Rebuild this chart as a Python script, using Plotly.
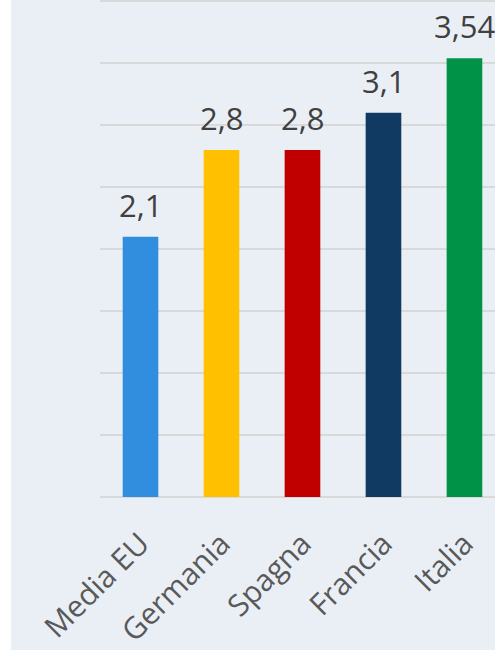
import plotly.graph_objects as go

# data
paesi = ['Media EU', 'Germania', 'Spagna', 'Francia', 'Italia']
valori = [2.1, 2.8, 2.8, 3.1, 3.54]
etichette = ['2,1', '2,8', '2,8', '3,1', '3,54']
colori = ['#318ede', '#ffc000', '#c00000', '#113a62', '#009246']

bg = '#eaeff6'

fig = go.Figure()
fig.add_trace(go.Bar(
    x=paesi, y=valori,
    marker_color=colori, marker_line_width=0,
    width=0.44,
    hoverinfo='skip',
))

# value labels above the bars
for p, v, t in zip(paesi, valori, etichette):
    fig.add_annotation(x=p, y=v, text=t, showarrow=False, yanchor='bottom', yshift=9,
                       font=dict(family='Open Sans', size=31, color='#404040'))

fig.update_layout(
    width=495, height=650,
    margin=dict(l=100, r=0, t=0, b=150),
    paper_bgcolor=bg, plot_bgcolor=bg,
    separators=',.',
    showlegend=False,
    font=dict(family='Open Sans'),
    # white strip on the left edge, as in the original image
    shapes=[dict(type='rect', xref='paper', yref='paper', x0=-0.26, x1=-0.2253,
                 y0=-0.4, y1=1.05, fillcolor='white', line_width=0, layer='below')],
)
fig.update_xaxes(
    range=[-0.5, 4.377], tickangle=-45,
    tickfont=dict(family='Open Sans', size=30, color='#595959'),
    ticks='outside', ticklen=16, tickcolor=bg, showline=False, showgrid=False,
)
fig.update_yaxes(
    range=[0, 4.01], dtick=0.5, showticklabels=False,
    gridcolor='#d9d9d9', gridwidth=2, zeroline=True, zerolinecolor='#d9d9d9', zerolinewidth=2,
)

fig.write_html('out.html', config={'displayModeBar': False},
               post_script="document.body.style.margin='0';")
